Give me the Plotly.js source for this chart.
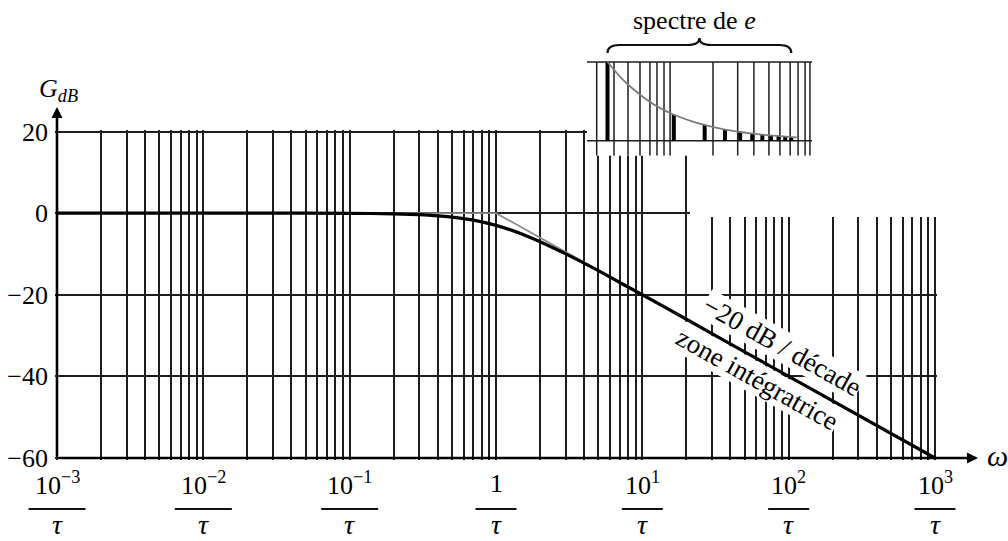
<!DOCTYPE html>
<html><head><meta charset="utf-8">
<script src="https://cdn.plot.ly/plotly-3.0.1.min.js"></script>
<style>html,body{margin:0;padding:0;background:#fff;font-family:'Liberation Serif';}#chart{width:1008px;height:541px;}</style>
</head><body><div id="chart"></div>
<script>
// ---------------- data ----------------
const omegaTicks = [1e-3, 1e-2, 1e-1, 1, 1e1, 1e2, 1e3];
const omegaTickNum = ['10<sup>−3</sup>', '10<sup>−2</sup>', '10<sup>−1</sup>', '1', '10<sup>1</sup>', '10<sup>2</sup>', '10<sup>3</sup>'];
const omegaTickDen = ['τ', 'τ', 'τ', 'τ', 'τ', 'τ', 'τ'];
const gainTicks = [-60, -40, -20, 0, 20];

const omegaAsym = [1e-3, 1, 1e3];
const gainAsym = [0, 0, -60];

const omegaCurve = [1e-3, 0.05, 0.1, 0.2, 0.3, 0.5, 0.7, 1, 1.5, 2, 3, 5, 7, 10, 20, 50, 100, 1000];
const gainCurve  = [0, -0.01, -0.04, -0.17, -0.37, -0.97, -1.7, -3.0, -5.1, -7.0, -10.0, -14.1, -17.0, -20.0, -26.0, -34.0, -40.0, -60.0];

// inset : spectre de e
const harmonicOrder = [1, 3, 5, 7, 9, 11, 13, 15, 17, 19, 21];
const harmonicAmp   = [1, 0.33, 0.2, 0.14, 0.11, 0.09, 0.077, 0.067, 0.059, 0.053, 0.048];
const envelopeOrder = [1, 1.3, 1.7, 2.2, 3, 4, 5, 7, 10, 14, 19, 23];
const envelopeAmp   = [1, 0.77, 0.59, 0.45, 0.33, 0.25, 0.2, 0.14, 0.1, 0.071, 0.053, 0.043];
const insetGridOrder = [0.836, 1.114, 1.404, 1.713, 2.02, 2.27, 2.55, 2.82, 5.74, 8.64, 11.3, 14.5, 17.4, 20.6, 23.5, 26.4, 28.6];

// ---------------- geometry ----------------
const FONT = 'Liberation Serif';
const PL = 55, PT = 20, PW = 882, PH = 440;          // paper box
const px = x => (x - PL) / PW;                        // pixel -> paper
const py = y => (PT + PH - y) / PH;
const PXDEC = (935 - 57) / 6;                         // pixels per decade
const PXDB = (458 - 131.5) / 80;                      // pixels per dB
const xr = [-3 - 2 / PXDEC, 3 + 2 / PXDEC];
const yr = [-60 - 2 / PXDB, 20 + 2 / PXDB];
const xDataAt = p => Math.pow(10, (p - 57) / PXDEC - 3);
const yDataAt = p => -60 + (458 - p) / PXDB;

// inset axis geometry
const IN_PXDEC = 139, IN_X1 = 607.5;
const ixr = [(587 - IN_X1) / IN_PXDEC, (812 - IN_X1) / IN_PXDEC];
const IN_PXU = 140.7 - 62;
const iyr = [-(155.7 - 140.7) / IN_PXU, (140.7 - 60) / IN_PXU];
const inPix = n => IN_X1 + IN_PXDEC * Math.log10(n);

// ---------------- traces ----------------
const traces = [];
traces.push({x: omegaAsym, y: gainAsym, mode: 'lines', line: {color: '#8c8c8c', width: 1.8}, hoverinfo: 'skip'});
traces.push({x: omegaCurve, y: gainCurve, mode: 'lines', line: {color: '#000', width: 3.2, shape: 'spline', smoothing: 0.8}, hoverinfo: 'skip'});

// inset grid
const gx = [], gy = [];
insetGridOrder.forEach(n => { gx.push(n, n, null); gy.push(iyr[0], 1, null); });
[0, 1].forEach(v => { gx.push(Math.pow(10, ixr[0]), Math.pow(10, ixr[1]), null); gy.push(v, v, null); });
traces.push({x: gx, y: gy, xaxis: 'x2', yaxis: 'y2', mode: 'lines', line: {color: '#1e1e1e', width: 1.5}, hoverinfo: 'skip'});
// spectrum bars
const bx = [], by = [];
harmonicOrder.forEach((n, i) => { bx.push(n, n, null); by.push(0, harmonicAmp[i], null); });
traces.push({x: bx, y: by, xaxis: 'x2', yaxis: 'y2', mode: 'lines', line: {color: '#000', width: 4}, hoverinfo: 'skip'});
traces.push({x: envelopeOrder, y: envelopeAmp, xaxis: 'x2', yaxis: 'y2', mode: 'lines', line: {color: '#7a7a7a', width: 1.8, shape: 'spline'}, hoverinfo: 'skip'});

// ---------------- shapes ----------------
const shapes = [];
// white masks over grid (between gridlines and traces)
shapes.push({type: 'rect', xref: 'x', yref: 'y', layer: 'between', x0: xDataAt(587), x1: 1e5, y0: yDataAt(155.7), y1: 100, fillcolor: '#fff', line: {width: 0}});
shapes.push({type: 'rect', xref: 'x', yref: 'y', layer: 'between', x0: xDataAt(690), x1: 1e5, y0: yDataAt(217), y1: 100, fillcolor: '#fff', line: {width: 0}});
// fraction bars
omegaTicks.forEach((v, i) => {
  const xp = (Math.log10(v) - xr[0]) / (xr[1] - xr[0]);
  const half = omegaTickNum[i].indexOf('−') >= 0 ? 28.5 : 20.5;
  shapes.push({type: 'line', xref: 'paper', yref: 'paper', x0: xp - half / PW, x1: xp + half / PW, y0: py(509), y1: py(509), line: {color: '#111', width: 1.8}});
});
// brace above the spectrum
(function () {
  const xL = inPix(harmonicOrder[0]), xR = inPix(harmonicOrder[harmonicOrder.length - 1]);
  const xm = (xL + xR) / 2, yb = 53, yf = 45, yt = 38;
  const P = (a, b) => px(a).toFixed(5) + ',' + py(b).toFixed(5);
  const path = 'M' + P(xL, yb) + ' Q' + P(xL, yf) + ' ' + P(xL + 12, yf) + ' L' + P(xm - 12, yf) +
    ' Q' + P(xm, yf) + ' ' + P(xm, yt) + ' Q' + P(xm, yf) + ' ' + P(xm + 12, yf) +
    ' L' + P(xR - 12, yf) + ' Q' + P(xR, yf) + ' ' + P(xR, yb);
  shapes.push({type: 'path', xref: 'paper', yref: 'paper', path: path, line: {color: '#111', width: 2.2}});
})();

// ---------------- annotations ----------------
const ann = [];
omegaTicks.forEach((v, i) => {
  const xp = (Math.log10(v) - xr[0]) / (xr[1] - xr[0]);
  ann.push({xref: 'paper', yref: 'paper', x: xp, y: py(484), xanchor: 'center', yanchor: 'middle', showarrow: false, text: omegaTickNum[i], font: {family: FONT, size: 26}});
  ann.push({xref: 'paper', yref: 'paper', x: xp, y: py(524), xanchor: 'center', yanchor: 'middle', showarrow: false, text: '<i>' + omegaTickDen[i] + '</i>', font: {family: FONT, size: 28}});
});
// axes arrows
ann.push({xref: 'paper', yref: 'paper', x: px(57), y: py(107), ax: 0, ay: 351, axref: 'pixel', ayref: 'pixel', text: '', showarrow: true, arrowhead: 2, arrowsize: 0.85, arrowwidth: 2.6, arrowcolor: '#000'});
ann.push({xref: 'paper', yref: 'paper', x: px(978), y: py(458), ax: -921, ay: 0, axref: 'pixel', ayref: 'pixel', text: '', showarrow: true, arrowhead: 2, arrowsize: 0.85, arrowwidth: 2.6, arrowcolor: '#000'});
ann.push({xref: 'paper', yref: 'paper', x: px(997), y: py(455), xanchor: 'center', yanchor: 'middle', showarrow: false, text: '<i>ω</i>', font: {family: FONT, size: 30}});
ann.push({xref: 'paper', yref: 'paper', x: px(58), y: py(90), xanchor: 'center', yanchor: 'middle', showarrow: false, text: '<i>G</i><sub><i>dB</i></sub>', font: {family: FONT, size: 26}});
ann.push({xref: 'paper', yref: 'paper', x: px(694), y: py(20), xanchor: 'center', yanchor: 'middle', showarrow: false, text: 'spectre de <i>e</i>', font: {family: FONT, size: 26}});
ann.push({xref: 'paper', yref: 'paper', x: px(782), y: py(346), xanchor: 'center', yanchor: 'middle', showarrow: false, textangle: 29.2, bgcolor: '#fff', borderpad: 0, text: '−20 dB / décade', font: {family: FONT, size: 27}});
ann.push({xref: 'paper', yref: 'paper', x: px(757), y: py(379), xanchor: 'center', yanchor: 'middle', showarrow: false, textangle: 29.2, bgcolor: '#fff', borderpad: 0, text: 'zone intégratrice', font: {family: FONT, size: 27}});

const layout = {
  width: 1008, height: 541,
  margin: {l: PL, r: 1008 - PL - PW, t: PT, b: 541 - PT - PH, pad: 0},
  paper_bgcolor: '#fff', plot_bgcolor: 'rgba(0,0,0,0)',
  showlegend: false,
  font: {family: FONT, size: 26, color: '#000'},
  xaxis: {type: 'log', range: xr, domain: [0, 1], anchor: 'y', dtick: 'D1', showgrid: true, gridcolor: '#1e1e1e', gridwidth: 1.5,
          showticklabels: false, ticks: '', zeroline: false, showline: false, fixedrange: true},
  yaxis: {range: yr, domain: [0, py(131.5 - 2)], anchor: 'x', tickmode: 'array', tickvals: gainTicks, showgrid: true, gridcolor: '#1e1e1e', gridwidth: 1.5,
          ticks: '', zeroline: false, showline: false, ticklabelstandoff: 6, tickfont: {family: FONT, size: 26}, fixedrange: true},
  xaxis2: {type: 'log', range: ixr, domain: [px(587), px(812)], anchor: 'y2', showgrid: false, showticklabels: false, ticks: '', zeroline: false, showline: false, fixedrange: true},
  yaxis2: {range: iyr, domain: [py(155.7), py(60)], anchor: 'x2', showgrid: false, showticklabels: false, ticks: '', zeroline: false, showline: false, fixedrange: true},
  shapes: shapes,
  annotations: ann
};
Plotly.newPlot('chart', traces, layout, {displayModeBar: false});
</script></body></html>
